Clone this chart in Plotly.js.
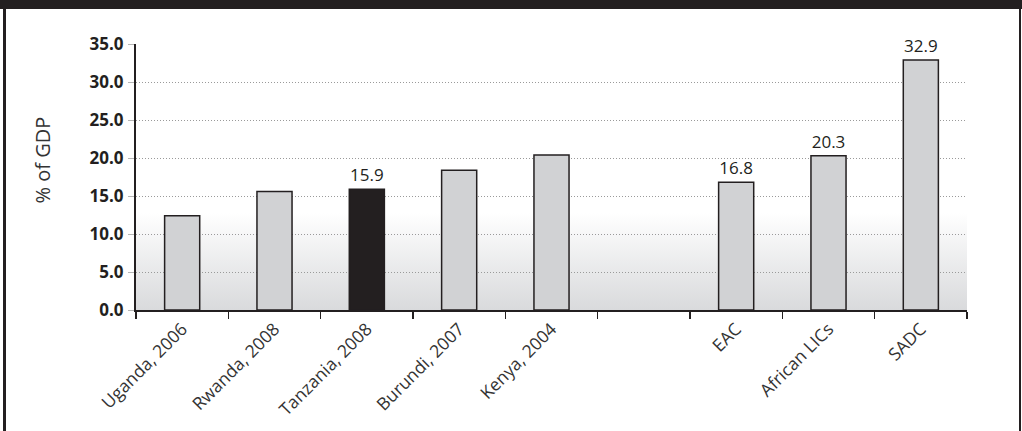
<!DOCTYPE html>
<html>
<head>
<meta charset="utf-8">
<script src="https://cdn.plot.ly/plotly-3.0.1.min.js"></script>
<style>
  html, body { margin: 0; padding: 0; background: #ffffff; }
  #wrap { position: relative; width: 1022px; height: 431px; overflow: hidden; }
  #chart { position: absolute; left: 0; top: 0; width: 1022px; height: 431px; }
  .frame { position: absolute; background: #231f20; z-index: 5; }
</style>
</head>
<body>
<div id="wrap">
  <div id="chart"></div>
  <div class="frame" style="left:0;top:0;width:1022px;height:9px;"></div>
  <div class="frame" style="left:3px;top:0;width:3px;height:431px;"></div>
  <div class="frame" style="left:1019px;top:0;width:2px;height:431px;"></div>
</div>
<script>
// Tax revenue as a share of GDP, by country / regional group
const categories = ['Uganda, 2006', 'Rwanda, 2008', 'Tanzania, 2008', 'Burundi, 2007', 'Kenya, 2004', ' ', 'EAC', 'African LICs', 'SADC'];
const values = [12.4, 15.6, 15.9, 18.4, 20.4, null, 16.8, 20.3, 32.9];
const labelled = [false, false, true, false, false, false, true, true, true];
const highlight = 'Tanzania, 2008';
const yTicks = [0, 5, 10, 15, 20, 25, 30, 35];
const yTitle = '% of GDP';

const dark = '#231f20';
const barGrey = '#d1d2d4';

// soft vertical shading in the lower part of the plot area
const gradientSvg =
  '<svg xmlns="http://www.w3.org/2000/svg" width="10" height="100" preserveAspectRatio="none">' +
  '<defs><linearGradient id="g" x1="0" y1="0" x2="0" y2="1">' +
  '<stop offset="0" stop-color="#ffffff"/><stop offset="1" stop-color="#d9dadc"/>' +
  '</linearGradient></defs><rect width="10" height="100" fill="url(#g)"/></svg>';

const trace = {
  type: 'bar',
  x: categories,
  y: values,
  marker: {
    color: categories.map(c => c === highlight ? dark : barGrey),
    line: { color: dark, width: 1.5 }
  },
  text: values.map((v, i) => labelled[i] ? v.toFixed(1) : ''),
  textposition: 'outside',
  textfont: { family: 'Open Sans, sans-serif', size: 17, color: dark },
  cliponaxis: false,
  hoverinfo: 'x+y'
};

const layout = {
  width: 1022,
  height: 431,
  margin: { l: 136, r: 55, t: 44, b: 121, pad: 0 },
  paper_bgcolor: '#ffffff',
  plot_bgcolor: 'rgba(0,0,0,0)',
  showlegend: false,
  bargap: 0.62,
  font: { family: 'Open Sans, sans-serif', color: dark },
  xaxis: {
    type: 'category',
    categoryorder: 'array',
    categoryarray: categories,
    tickson: 'boundaries',
    ticks: 'outside',
    ticklen: 7,
    tickwidth: 1.5,
    tickcolor: dark,
    tickangle: -45,
    tickfont: { family: 'Open Sans, sans-serif', size: 17.5, color: '#333' },
    showline: true,
    linecolor: dark,
    linewidth: 2,
    showgrid: false,
    zeroline: false,
    fixedrange: true
  },
  yaxis: {
    range: [0, 35],
    tickvals: yTicks,
    ticktext: yTicks.map(v => v.toFixed(1)),
    tickfont: { family: 'Open Sans, sans-serif', size: 17, color: dark, weight: 'bold' },
    ticks: 'outside',
    ticklen: 6,
    tickcolor: '#b5b5b5',
    tickwidth: 1,
    ticklabelstandoff: 1,
    showline: true,
    linecolor: dark,
    linewidth: 2,
    showgrid: true,
    gridcolor: '#9a9a9a',
    griddash: '1px,2px',
    gridwidth: 1,
    zeroline: false,
    fixedrange: true
  },
  annotations: [{
    text: yTitle,
    textangle: -90,
    xref: 'paper', yref: 'paper',
    x: -0.1125, y: 0.564,
    xanchor: 'center', yanchor: 'middle',
    showarrow: false,
    font: { family: 'Open Sans, sans-serif', size: 20, color: '#333' }
  }],
  images: [{
    source: 'data:image/svg+xml;charset=utf-8,' + encodeURIComponent(gradientSvg),
    xref: 'paper', yref: 'y',
    x: 0, y: 12.8,
    sizex: 1, sizey: 12.8,
    xanchor: 'left', yanchor: 'top',
    sizing: 'stretch',
    layer: 'below'
  }]
};

Plotly.newPlot('chart', [trace], layout, { displayModeBar: false, staticPlot: true });
</script>
</body>
</html>
